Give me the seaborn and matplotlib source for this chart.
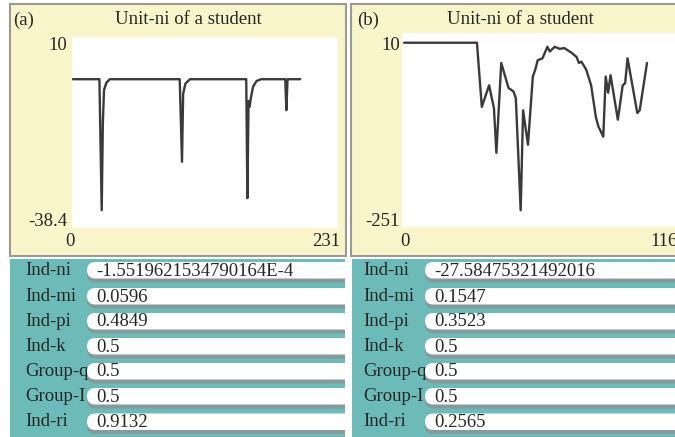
import matplotlib.pyplot as plt
import seaborn as sns
from matplotlib.patches import Rectangle, FancyBboxPatch

# plot (a): Unit-ni of a student, ticks 0..231
a_ticks = [0, 23, 25, 26, 27, 29, 32, 93, 95, 96, 98, 102, 151, 152, 153, 154, 155, 157, 160, 164, 185, 186, 187, 198]
a_values = [0, 0, -36, -12, -3, -1, 0, 0, -22.7, -4, -1.2, 0, 0, -32.7, -6, -7.5, -5.2, -2, -0.5, 0, 0, -8.5, 0, 0]

# plot (b): Unit-ni of a student, ticks 0..116
b_ticks = [0, 30, 32, 35, 37, 38, 40, 43, 45, 46, 48, 49, 51, 53, 54, 55, 57, 59, 60, 62, 64, 66, 69, 71,
           72, 73, 75, 77, 79, 80, 82, 83, 84, 85, 88, 90, 91, 92, 96, 97, 100]
b_values = [10, 10, -85, -53, -87, -153, -20, -57, -62, -72, -238, -90, -141, -40, -30, -16, -13, 4, -3, 4, 1, 2,
            -5, -11, -20, -18, -30, -53, -101, -114, -129, -40, -64, -38, -104, -53, -50, -13, -94, -90, -20]

# monitor widgets under each plot
labels = ["Ind-ni", "Ind-mi", "Ind-pi", "Ind-k", "Group-q", "Group-I", "Ind-ri"]
values_a = ["-1.5519621534790164E-4", "0.0596", "0.4849", "0.5", "0.5", "0.5", "0.9132"]
values_b = ["-27.58475321492016", "0.1547", "0.3523", "0.5", "0.5", "0.5", "0.2565"]

sns.set_style("white")
plt.rcParams['font.family'] = ['Liberation Serif', 'DejaVu Serif']

W, H = 675, 437
fig = plt.figure(figsize=(W / 100, H / 100), dpi=100)
fig.patch.set_facecolor('white')

# background axes in pixel coordinates
bg = fig.add_axes([0, 0, 1, 1], zorder=0)
bg.set_xlim(0, W)
bg.set_ylim(H, 0)
bg.axis('off')

yellow = '#f9f5cb'
teal = '#6cbbb8'
border = '#9a9a92'

for x0 in (10, 351):
    bg.add_patch(Rectangle((x0, 4), 336, 252, facecolor=yellow, edgecolor=border, lw=1.5))

row_y = [270.5, 296.5, 321.5, 346.5, 371.5, 396.5, 422]


def monitors(x0, label_x, box_x, vals):
    panel = Rectangle((x0, 259), 335, H - 259, facecolor=teal, edgecolor='none')
    bg.add_patch(panel)
    for lab, val, yc in zip(labels, vals, row_y):
        bg.text(label_x, yc, lab, fontsize=13.5, ha='left', va='center', zorder=2)
        sh = FancyBboxPatch((box_x, yc - 8 + 3), 300, 17, boxstyle="round,pad=0,rounding_size=8.5",
                            facecolor='#879a9a', edgecolor='none', zorder=3)
        bx = FancyBboxPatch((box_x, yc - 8.5), 300, 16.5, boxstyle="round,pad=0,rounding_size=8.3",
                            facecolor='white', edgecolor='none', zorder=4)
        bg.add_patch(sh)
        bg.add_patch(bx)
        sh.set_clip_path(panel)
        bx.set_clip_path(panel)
        bg.text(box_x + 9, yc + 0.5, val, fontsize=13.5, ha='left', va='center', zorder=5)


monitors(10, 25, 87, values_a)
monitors(352, 363, 425, values_b)


def plot_panel(px0, px1, py0, py1, xlim, ylim, ticks, vals):
    ax = fig.add_axes([px0 / W, 1 - py1 / H, (px1 - px0) / W, (py1 - py0) / H], zorder=1)
    ax.set_facecolor('white')
    sns.lineplot(x=ticks, y=vals, ax=ax, color='#3a3a3a', linewidth=1.7, estimator=None)
    ax.set_xlim(*xlim)
    ax.set_ylim(*ylim)
    ax.set_xticks([])
    ax.set_yticks([])
    ax.set_xlabel('')
    ax.set_ylabel('')
    for s in ax.spines.values():
        s.set_visible(False)
    return ax


plot_panel(72, 338, 37, 228, (-0.9, 231), (-40.9, 11.6), a_ticks, a_values)
plot_panel(402, 690, 33, 227, (-0.85, 117.7), (-262.8, 24.4), b_ticks, b_values)

# titles and axis range labels
fs = 13.5
bg.text(13, 20, "(a)", fontsize=fs, ha='left', va='center')
bg.text(188, 20, "Unit-ni of a student", fontsize=fs, ha='center', va='center')
bg.text(67, 45, "10", fontsize=fs, ha='right', va='center')
bg.text(67, 221, "-38.4", fontsize=fs, ha='right', va='center')
bg.text(70, 241, "0", fontsize=fs, ha='center', va='center')
bg.text(340, 241, "231", fontsize=fs, ha='right', va='center')

bg.text(357, 20, "(b)", fontsize=fs, ha='left', va='center')
bg.text(520, 20, "Unit-ni of a student", fontsize=fs, ha='center', va='center')
bg.text(400, 45, "10", fontsize=fs, ha='right', va='center')
bg.text(400, 221, "-251", fontsize=fs, ha='right', va='center')
bg.text(405, 241, "0", fontsize=fs, ha='center', va='center')
bg.text(650, 241, "116", fontsize=fs, ha='left', va='center')

fig.savefig('out.png', dpi=100)
